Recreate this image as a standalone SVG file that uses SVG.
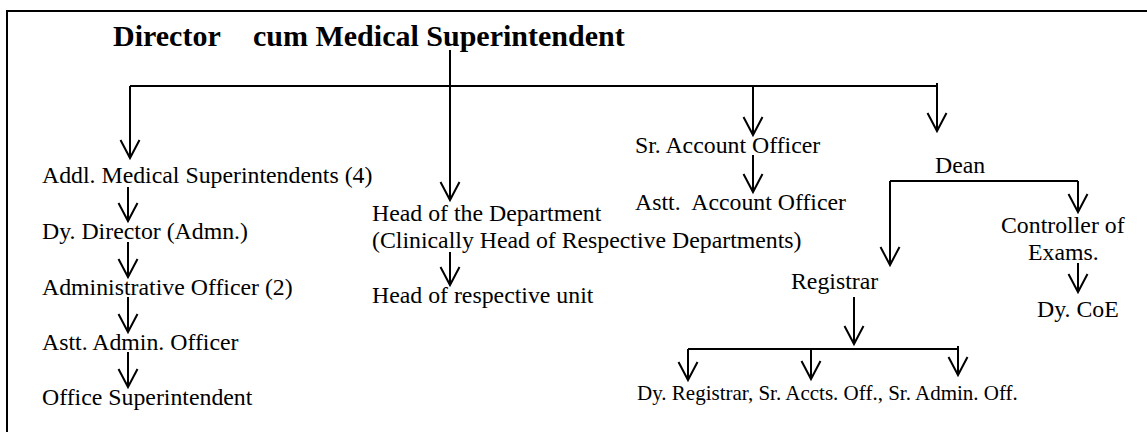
<svg xmlns="http://www.w3.org/2000/svg" width="1147" height="432" viewBox="0 0 1147 432">
<defs>
<marker id="arr" markerUnits="userSpaceOnUse" markerWidth="24" markerHeight="24" refX="0" refY="0" orient="auto" overflow="visible">
<path d="M-18,-9.5 L0,0 L-18,9.5" fill="none" stroke="#000" stroke-width="2"/>
</marker>
<style>
.t{font-family:"Liberation Serif","Times New Roman",serif;font-size:23.8px;fill:#000}
.s{font-family:"Liberation Serif","Times New Roman",serif;font-size:21px;fill:#000}
.b{font-family:"Liberation Serif","Times New Roman",serif;font-size:30px;font-weight:bold;fill:#000}
.c{fill:none;stroke:#000;stroke-width:2}
.a{fill:none;stroke:#000;stroke-width:2;marker-end:url(#arr)}
</style>
</defs>
<rect width="1147" height="432" fill="#fff"/>
<path class="c" d="M7,432 V11 H1147"/>
<g id="connectors">
<path class="c" d="M130,86 H937"/>
<path class="a" d="M450,50 V200"/>
<path class="a" d="M130,86 V158"/>
<path class="a" d="M753,86 V135"/>
<path class="a" d="M937,83 V131"/>
<path class="a" d="M128,187 V221"/>
<path class="a" d="M128,242 V277"/>
<path class="a" d="M128,297 V332"/>
<path class="a" d="M128,352 V387"/>
<path class="a" d="M450,252 V285"/>
<path class="a" d="M753,155 V192"/>
<path class="c" d="M890,181 H1078"/>
<path class="a" d="M890,181 V265"/>
<path class="a" d="M1078,181 V212"/>
<path class="a" d="M1078,263 V292"/>
<path class="a" d="M854,297 V344"/>
<path class="c" d="M688,349 H958"/>
<path class="a" d="M688,349 V380"/>
<path class="a" d="M811,349 V379"/>
<path class="a" d="M958,346 V375"/>
</g>
<g id="director"><text class="b" y="46"><tspan x="113">Director</tspan><tspan x="253">cum Medical Superintendent</tspan></text></g>
<g id="addl-ms"><text class="t" x="42" y="183">Addl. Medical Superintendents (4)</text></g>
<g id="dy-director"><text class="t" x="42" y="239">Dy. Director (Admn.)</text></g>
<g id="admin-officer"><text class="t" x="42" y="295">Administrative Officer (2)</text></g>
<g id="astt-admin"><text class="t" x="42" y="350">Astt. Admin. Officer</text></g>
<g id="office-supdt"><text class="t" x="42" y="405">Office Superintendent</text></g>
<g id="hod"><text class="t" x="372" y="221">Head of the Department</text><text class="t" x="372" y="248">(Clinically Head of Respective Departments)</text></g>
<g id="head-unit"><text class="t" x="372" y="303">Head of respective unit</text></g>
<g id="sr-account"><text class="t" x="635" y="153">Sr. Account Officer</text></g>
<g id="astt-account"><text class="t" x="635" y="210" xml:space="preserve">Astt.  Account Officer</text></g>
<g id="dean"><text class="t" x="935" y="173">Dean</text></g>
<g id="registrar"><text class="t" x="791" y="289">Registrar</text></g>
<g id="controller"><text class="t" x="1001" y="233">Controller of</text><text class="t" x="1028" y="260">Exams.</text></g>
<g id="dy-coe"><text class="t" x="1037" y="317">Dy. CoE</text></g>
<g id="dy-registrar"><text class="s" x="637" y="400">Dy. Registrar, Sr. Accts. Off., Sr. Admin. Off.</text></g>
</svg>
